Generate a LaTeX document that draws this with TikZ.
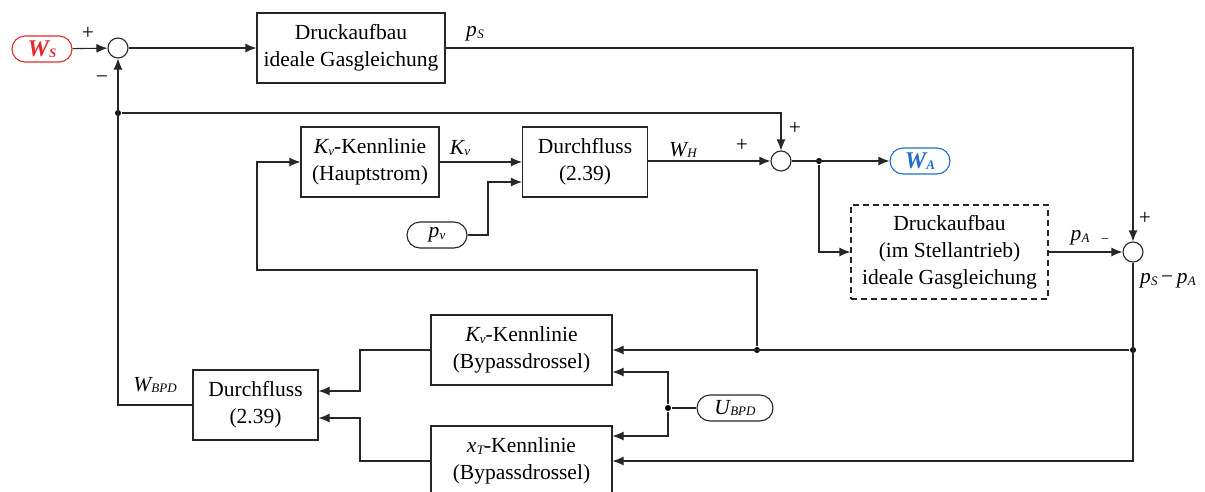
\documentclass[tikz,border=0pt]{standalone}
\usepackage{fontspec}
\setmainfont{Liberation Serif}
\usetikzlibrary{arrows.meta}
\definecolor{wsred}{RGB}{232,40,40}
\definecolor{wablue}{RGB}{30,110,200}
\newcommand{\vsym}[2]{\textit{#1\kern0.3pt\raisebox{-1.5pt}{\fontsize{13}{13}\selectfont #2}}}
\begin{document}
\begin{tikzpicture}[x=1pt,y=-1pt,
  font=\fontsize{21.5}{27}\selectfont,
  line width=1.1pt, draw=black!85,
  blk/.style={draw, line width=1.1pt, align=center, inner sep=0pt},
  sumnode/.style={draw, circle, minimum size=20pt, inner sep=0pt, fill=white},
  term/.style={draw, rounded corners=13pt, inner sep=0pt, minimum height=26pt},
  arr/.style={-{Latex[length=11pt,width=9pt]}},
  dot/.style={circle, fill=black, inner sep=0pt, minimum size=6pt},
  lbl/.style={inner sep=1pt}]
\useasboundingbox (0,0) rectangle (1205,491);

% blocks
\node[blk, minimum width=188pt, minimum height=70pt] (b1) at (351,48) {Druckaufbau\\ideale Gasgleichung};
\node[blk, minimum width=138pt, minimum height=70pt] (kvh) at (370,162) {\vsym{K}{v}-Kennlinie\\(Hauptstrom)};
\node[blk, minimum width=125pt, minimum height=70pt] (df1) at (585,162) {Durchfluss\\(2.39)};
\node[blk, dashed, dash pattern=on 6pt off 4pt, minimum width=197pt, minimum height=94pt] (db) at (949.5,252) {Druckaufbau\\(im Stellantrieb)\\ideale Gasgleichung};
\node[blk, minimum width=181pt, minimum height=70pt] (kvb) at (521.5,350) {\vsym{K}{v}-Kennlinie\\(Bypassdrossel)};
\node[blk, minimum width=181pt, minimum height=70pt] (xtb) at (521.5,461) {\vsym{x}{T}-Kennlinie\\(Bypassdrossel)};
\node[blk, minimum width=125pt, minimum height=70pt] (df2) at (255.5,405) {Durchfluss\\(2.39)};

% summing points
\node[sumnode] (s1) at (118,48) {};
\node[sumnode] (s2) at (781,161) {};
\node[sumnode] (s3) at (1133,252) {};

% terminals
\node[term, draw=wsred, text=wsred, minimum width=60pt] (ws) at (42,49) {\fontsize{24}{24}\selectfont\bfseries\vsym{W}{S}};
\node[term, minimum width=60pt] (pv) at (437,235) {\vsym{p}{v}};
\node[term, draw=wablue, text=wablue, minimum width=60pt] (wa) at (920,161) {\fontsize{24}{24}\selectfont\bfseries\vsym{W}{A}};
\node[term, minimum width=76pt] (ub) at (735,408) {\vsym{U}{BPD}};

% branch points
\node[dot] (j1) at (118,113) {};
\node[dot] (j2) at (819,161) {};
\node[dot] (j3) at (1133,350) {};
\node[dot] (j4) at (757,350) {};
\node[dot] (j5) at (668,408) {};
\coordinate (pvbend) at (488,235);
\coordinate (kvbend) at (257,270);
\coordinate (bl1) at (360,391);
\coordinate (bl2) at (360,418);

% main pressure path
\draw[arr] (ws) -- (s1);
\draw[arr] (s1) -- (b1);
\draw[arr] (b1.east) -| (s3.north);
\draw[arr] (df2.west) -| (s1.south);
\draw[arr] (j1) -| (s2.north);

% main flow path
\draw[arr] (kvh.east) -- (df1.west);
\draw[arr] (pv.east) -- (pvbend) |- ([yshift=-20pt]df1.west);
\draw[arr] (df1.east |- s2.west) -- (s2.west);
\draw[arr] (s2.east) -- (wa.west);
\draw[arr] (j2) |- (db.west);
\draw[arr] (db.east) -- (s3.west);

% pressure difference feedback
\draw[arr] (s3.south) |- (xtb.east);
\draw[arr] (j3) -- (kvb.east);
\draw[arr] (j4) |- (kvbend) |- (kvh.west);

% bypass throttle
\draw (ub.west) -- (j5);
\draw[arr] (j5) |- ([yshift=-22pt]kvb.east);
\draw[arr] (j5) |- ([yshift=25pt]xtb.east);
\draw[arr] (kvb.west) -| (bl1) -- (df2.east |- bl1);
\draw[arr] (xtb.west) -| (bl2) -- (df2.east |- bl2);

% signal labels
\node[lbl] (l1) at (88,33) {+};
\node[lbl] (l2) at (102,80) {−};
\node[lbl] (l3) at (475,34) {\vsym{p}{S}};
\node[lbl] (l4) at (460,148) {\vsym{K}{v}};
\node[lbl] (l5) at (683,150) {\vsym{W}{H}};
\node[lbl] (l6) at (742,145) {+};
\node[lbl] (l7) at (795,128) {+};
\node[lbl] (l8) at (1080,238) {\vsym{p}{A}};
\node[lbl] (l9) at (1105,241) {\fontsize{14}{14}\selectfont −};
\node[lbl] (l10) at (1145,218) {+};
\node[lbl] (l11) at (1168,281) {\vsym{p}{S}\,−\,\vsym{p}{A}};
\node[lbl] (l12) at (155,385) {\vsym{W}{BPD}};
\end{tikzpicture}
\end{document}
